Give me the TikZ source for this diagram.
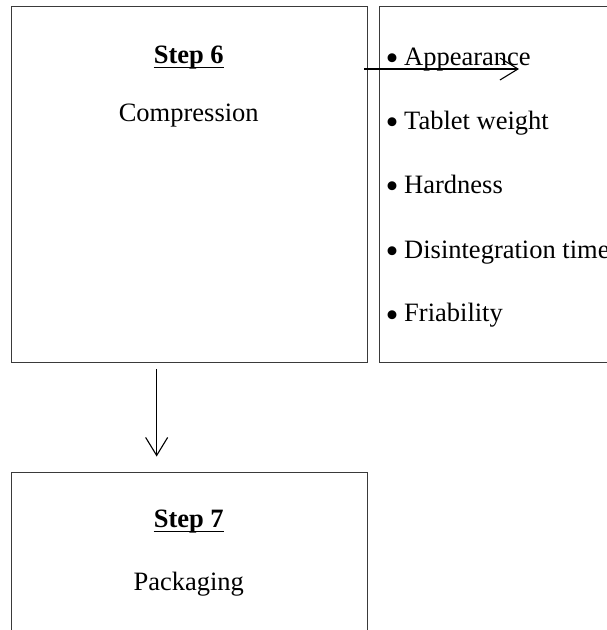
\documentclass[tikz,border=0pt]{standalone}
\usepackage{fontspec}
\usepackage{graphicx}
\setmainfont{Liberation Serif}
\usetikzlibrary{arrows.meta}
\definecolor{boxgray}{HTML}{3A3A3A}
\newcommand{\bigbul}{\makebox[16.5pt][l]{\hspace{-2pt}\raisebox{-5.5pt}{\scalebox{1.4}{•}}}}
\begin{document}
\begin{tikzpicture}[x=1pt,y=-1pt,
  box/.style={draw=boxgray, line width=1.3pt, inner sep=0pt, anchor=north west},
  txt/.style={font=\fontsize{26.5}{30}\selectfont, inner sep=0pt, anchor=base},
  bul/.style={txt, anchor=base west},
  uline/.style={line width=1.2pt},
  arr/.style={line width=1.1pt, -{Straight Barb[length=18pt, width=22pt, line width=1.1pt]}}]
\useasboundingbox (0,0) rectangle (607,630);
\clip (0,0) rectangle (607,630);
% boxes
\node[box, minimum width=355.5pt, minimum height=356pt] (b6) at (11,5.5) {};
\node[box, minimum width=300pt, minimum height=356pt] (q) at (378.5,5.5) {};
\node[box, minimum width=355.5pt, minimum height=250pt] (b7) at (11,472) {};
% step 6
\node[txt, font=\fontsize{26.5}{30}\selectfont\bfseries] (s6) at (188.75,63) {Step 6};
\draw[uline] ([yshift=-4.5pt]s6.base west) -- ([yshift=-4.5pt]s6.base east);
\node[txt] (c6) at (188.75,121) {Compression};
% step 7
\node[txt, font=\fontsize{26.5}{30}\selectfont\bfseries] (s7) at (188.75,527) {Step 7};
\draw[uline] ([yshift=-4.5pt]s7.base west) -- ([yshift=-4.5pt]s7.base east);
\node[txt] (p7) at (188.75,590) {Packaging};
% quality list
\node[bul] (q1) at (387.5,65) {\bigbul Appearance};
\node[bul] (q2) at (387.5,129) {\bigbul Tablet weight};
\node[bul] (q3) at (387.5,193) {\bigbul Hardness};
\node[bul] (q4) at (387.5,258) {\bigbul Disintegration time};
\node[bul] (q5) at (387.5,321.5) {\bigbul Friability};
% connectors
\coordinate (h1) at (364,69);
\coordinate (h2) at (519,69);
\draw[arr] (h1) -- (h2);
\draw[arr] ([xshift=-32.75pt,yshift=-6pt]b6.south) -- ([xshift=-32.75pt,yshift=15.5pt]b7.north);
\end{tikzpicture}
\end{document}
